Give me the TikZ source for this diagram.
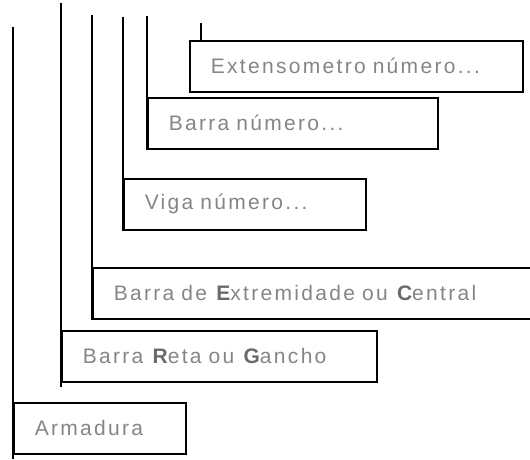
\documentclass[tikz,border=0pt]{standalone}
\usepackage{fontspec}
\setmainfont{Liberation Sans}[LetterSpace=11,WordSpace=1.5]
\definecolor{txtgray}{HTML}{858585}
\definecolor{boldgray}{HTML}{6A6A6A}
\newcommand{\bl}[1]{\textbf{\textcolor{boldgray}{#1}}}
\begin{document}
\begin{tikzpicture}[x=1pt,y=-1pt,
  box/.style={draw=black,line width=1.6pt,rectangle,anchor=north west,inner xsep=21pt,inner ysep=0pt,
    align=left,text=txtgray,font=\fontsize{21}{25}\selectfont,minimum height=51pt},
  vline/.style={draw=black,line width=1.6pt}]
\useasboundingbox (0,0) rectangle (530,460);
\node[box,text width=172pt-42pt,minimum width=172pt] (arm) at (13,402) {Armadura};
\node[box,text width=315pt-42pt,minimum width=315pt] (ret) at (61,330) {Barra \bl{R}eta ou \bl{G}ancho};
\node[box,text width=470pt-42pt,minimum width=470pt] (ext) at (92,267) {Barra de \bl{E}xtremidade ou \bl{C}entral};
\node[box,text width=242pt-42pt,minimum width=242pt] (viga) at (123,178) {Viga número...};
\node[box,text width=290pt-42pt,minimum width=290pt] (bar) at (147,97) {Barra número...};
\node[box,text width=333pt-42pt,minimum width=333pt] (extn) at (189,40) {Extensometro número...};
\coordinate (t1) at (13,27);  \coordinate (b1) at (13,459);
\coordinate (t2) at (61,3);   \coordinate (b2) at (61,387);
\coordinate (t3) at (92,15);
\coordinate (t4) at (123,17);
\coordinate (t5) at (147,16);
\coordinate (t6) at (201,23);
\draw[vline] (t1) -- (b1);
\draw[vline] (t2) -- (b2);
\draw[vline] (t3) -- (ext.south west);
\draw[vline] (t4) -- (viga.south west);
\draw[vline] (t5) -- (bar.south west);
\draw[vline] (t6) -- (t6 |- extn.north);
\end{tikzpicture}
\end{document}
